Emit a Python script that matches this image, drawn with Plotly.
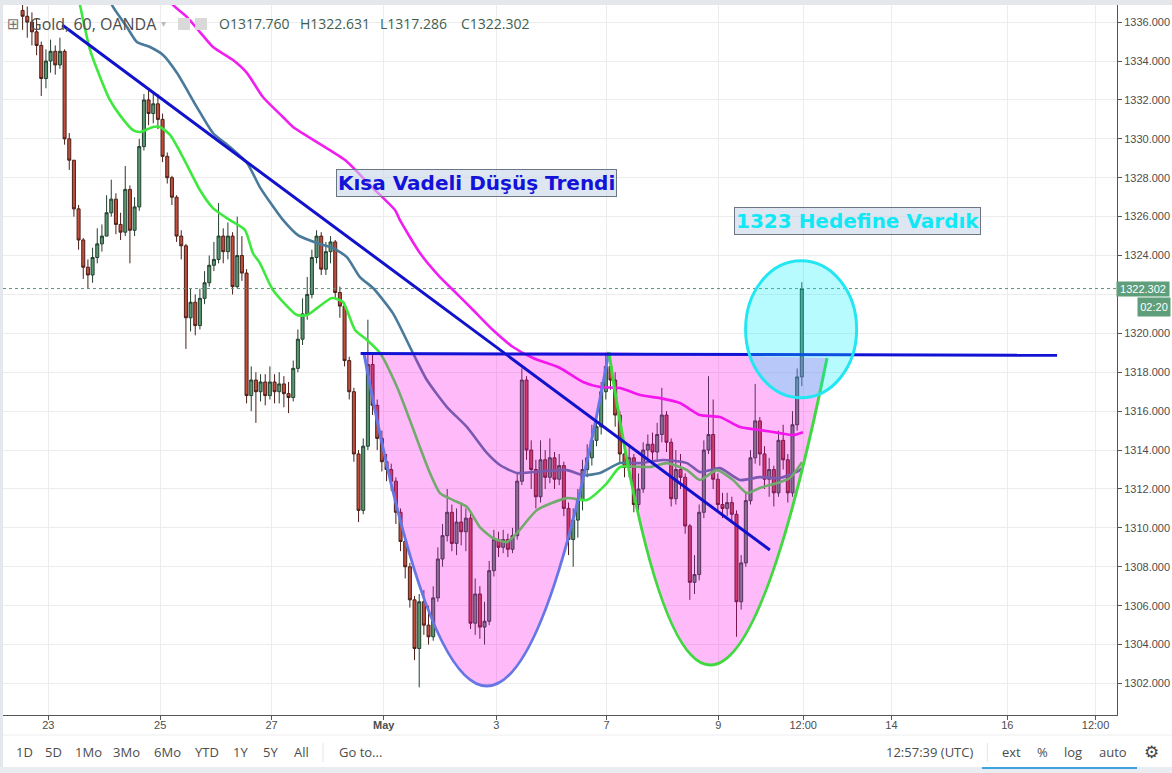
import plotly.graph_objects as go

# ---------------- data ----------------
# 2-hour candles, x = trading hours since 23 Apr 00:00 (weekends collapsed)
bar_start_hour = -11
bar_step_hours = 2
first_open = 1336.6
closes = [
    1336.3, 1336.0, 1335.5, 1334.8, 1333.1, 1334.0, 1334.5, 1333.8, 1334.5, 1330.0,
    1328.9, 1326.4, 1324.8, 1323.4, 1323.0, 1323.9, 1324.6, 1325.0, 1326.2, 1326.9,
    1325.6, 1325.2, 1327.4, 1325.3, 1326.5, 1329.6, 1332.0, 1331.3, 1331.8, 1331.0,
    1329.1, 1328.0, 1327.0, 1325.0, 1324.5, 1320.8, 1321.6, 1320.4, 1321.8, 1322.6,
    1323.5, 1323.8, 1325.0, 1324.2, 1325.0, 1322.4, 1324.0, 1323.1, 1316.8, 1317.6,
    1317.0, 1317.5, 1316.8, 1317.5, 1317.0, 1317.4, 1316.9, 1316.7, 1318.2, 1319.7,
    1321.0, 1322.0, 1323.9, 1325.0, 1323.3, 1324.2, 1324.7, 1322.1, 1321.4, 1318.6,
    1317.0, 1313.8, 1310.9, 1314.2, 1318.4, 1316.3, 1314.6, 1313.4, 1313.0, 1312.4,
    1310.8, 1309.3, 1308.0, 1306.3, 1303.8, 1306.2, 1305.0, 1304.4, 1306.4, 1308.4,
    1309.6, 1310.8, 1309.2, 1310.3, 1309.8, 1310.5, 1305.1, 1306.6, 1304.9, 1305.2,
    1307.8, 1309.4, 1309.0, 1309.4, 1308.9, 1309.6, 1312.4, 1317.6, 1314.0, 1313.0,
    1311.6, 1313.5, 1312.6, 1313.6, 1312.5, 1313.2, 1311.0, 1309.4, 1310.4, 1311.4,
    1313.0, 1313.6, 1314.5, 1315.2, 1317.0, 1318.3, 1317.6, 1315.8, 1313.8, 1313.1,
    1313.6, 1311.2, 1312.0, 1314.0, 1314.3, 1313.9, 1314.8, 1315.8, 1314.4, 1311.5,
    1313.0, 1312.6, 1310.1, 1307.2, 1307.6, 1310.8, 1314.0, 1314.8, 1312.5, 1311.2,
    1311.0, 1311.3, 1310.7, 1306.2, 1308.2, 1311.4, 1313.6, 1315.5, 1313.8, 1312.5,
    1313.0, 1311.8, 1314.5, 1313.5, 1311.8, 1315.3, 1317.76, 1322.302,
]
highs = [
    1336.9, 1336.8, 1336.5, 1336.2, 1335.0, 1334.6, 1335.1, 1334.8, 1335.2, 1334.6,
    1330.3, 1328.9, 1326.6, 1324.9, 1323.8, 1324.4, 1325.4, 1325.6, 1327.1, 1327.9,
    1327.2, 1326.2, 1328.6, 1327.6, 1327.0, 1330.0, 1332.3, 1332.5, 1332.4, 1332.3,
    1331.3, 1329.3, 1328.1, 1327.1, 1325.3, 1324.6, 1322.3, 1322.0, 1322.3, 1323.2,
    1324.0, 1324.7, 1326.7, 1325.4, 1325.7, 1325.2, 1326.0, 1325.0, 1323.3, 1318.3,
    1318.0, 1317.9, 1317.9, 1318.3, 1317.9, 1318.0, 1317.8, 1317.5, 1318.6, 1320.2,
    1321.8, 1322.9, 1324.3, 1325.3, 1325.2, 1324.7, 1325.0, 1324.8, 1322.4, 1321.6,
    1318.8, 1317.2, 1314.0, 1314.6, 1320.7, 1318.9, 1316.6, 1315.0, 1313.8, 1313.3,
    1312.6, 1311.0, 1309.6, 1308.2, 1306.5, 1306.6, 1306.8, 1306.0, 1307.0, 1309.0,
    1310.2, 1312.0, 1311.2, 1311.0, 1311.3, 1311.0, 1310.8, 1307.4, 1307.0, 1306.2,
    1308.3, 1309.9, 1309.8, 1309.9, 1309.7, 1310.0, 1312.8, 1318.2, 1317.8, 1314.5,
    1313.5, 1314.5, 1314.0, 1314.6, 1313.9, 1313.8, 1313.4, 1311.3, 1311.0, 1312.0,
    1313.5, 1314.3, 1315.3, 1316.0, 1317.5, 1319.0, 1318.8, 1318.0, 1316.0, 1314.2,
    1314.3, 1313.8, 1312.8, 1314.4, 1314.8, 1314.9, 1315.4, 1317.2, 1316.0, 1314.6,
    1314.0, 1313.8, 1312.8, 1310.2, 1308.6, 1311.2, 1314.5, 1317.8, 1316.6, 1312.8,
    1311.8, 1311.8, 1311.6, 1310.9, 1308.6, 1311.8, 1314.0, 1317.4, 1315.7, 1314.2,
    1313.6, 1313.2, 1315.0, 1315.3, 1313.8, 1316.0, 1318.2, 1322.631,
]
lows = [
    1335.6, 1335.2, 1334.8, 1334.3, 1332.2, 1332.6, 1333.4, 1333.3, 1333.6, 1329.7,
    1328.4, 1326.0, 1324.3, 1322.8, 1322.3, 1322.6, 1323.6, 1324.2, 1325.0, 1326.0,
    1325.1, 1324.8, 1325.0, 1323.6, 1325.0, 1326.3, 1329.4, 1330.7, 1330.8, 1330.5,
    1328.8, 1327.7, 1326.6, 1324.7, 1323.8, 1319.2, 1320.1, 1319.9, 1320.2, 1321.5,
    1322.4, 1323.2, 1323.6, 1323.6, 1323.8, 1322.0, 1322.3, 1322.7, 1316.4, 1316.0,
    1315.4, 1316.5, 1316.3, 1316.6, 1316.4, 1316.4, 1316.2, 1315.9, 1316.5, 1318.0,
    1319.4, 1320.7, 1321.8, 1323.6, 1323.0, 1323.0, 1323.6, 1321.8, 1320.8, 1318.3,
    1316.6, 1313.4, 1310.3, 1310.7, 1314.0, 1315.8, 1314.0, 1312.9, 1312.4, 1311.9,
    1310.2, 1308.8, 1307.4, 1305.9, 1303.2, 1301.8, 1304.5, 1304.0, 1304.2, 1306.2,
    1308.0, 1309.3, 1308.8, 1308.6, 1309.1, 1308.8, 1304.8, 1304.5, 1304.3, 1304.0,
    1305.0, 1307.5, 1308.5, 1308.7, 1308.5, 1308.7, 1309.4, 1312.2, 1313.5, 1312.0,
    1311.0, 1311.3, 1312.0, 1312.3, 1312.0, 1312.2, 1310.6, 1308.6, 1308.0, 1309.5,
    1310.9, 1312.6, 1313.2, 1314.2, 1314.8, 1316.6, 1317.1, 1315.2, 1313.3, 1312.6,
    1312.6, 1310.8, 1310.9, 1311.8, 1313.6, 1313.4, 1313.5, 1314.4, 1313.9, 1311.1,
    1311.2, 1312.0, 1309.7, 1306.3, 1306.6, 1307.3, 1310.5, 1313.8, 1312.0, 1310.8,
    1310.5, 1310.6, 1310.3, 1304.4, 1305.8, 1308.0, 1311.2, 1313.3, 1313.2, 1312.0,
    1311.6, 1311.1, 1311.6, 1313.0, 1311.3, 1311.6, 1315.0, 1317.286,
]
opens = [first_open] + closes[:-1]
bar_hours = [bar_start_hour + bar_step_hours * i for i in range(len(closes))]

# moving averages (hour, price)
ma_fast_h = [12.7, 13.6, 17.9, 22.2, 26.4, 30.7, 36.3, 39.3, 44.9, 47.9, 52.2, 57.7, 65.0,
             70.6, 77.9, 84.3, 87.7, 90.7, 96.3, 106.6, 110.9, 115.2, 121.6, 126.3, 131.5,
             136.6, 142.2, 149.5, 155.0, 159.3, 163.6, 167.9, 173.5, 179.5, 185.0, 190.6,
             196.6, 200.9, 209.5, 222.3, 230.9, 239.5, 245.1, 257.9, 265.2, 273.8, 279.3,
             286.6, 293.5, 299.5, 305.0, 313.6, 317.9, 323.1]
ma_fast_p = [1337.39, 1336.88, 1334.57, 1333.18, 1332.0, 1331.22, 1330.45, 1330.35, 1330.61,
             1330.61, 1330.2, 1329.06, 1327.37, 1326.44, 1325.82, 1325.31, 1324.13, 1323.61,
             1322.23, 1320.94, 1320.94, 1321.3, 1321.82, 1321.61, 1320.17, 1319.66, 1318.99,
             1317.24, 1315.54, 1314.15, 1312.82, 1311.79, 1311.43, 1311.07, 1310.04, 1309.48,
             1309.27, 1309.73, 1310.92, 1311.53, 1311.43, 1312.30, 1313.13, 1313.13, 1313.33,
             1312.97, 1312.46, 1312.97, 1312.46, 1311.79, 1312.05, 1312.35, 1312.56, 1313.38]
ma_mid_h = [25.6, 27.3, 33.7, 38.0, 43.6, 49.2, 55.2, 63.7, 70.6, 77.9, 85.2, 90.7, 95.0,
            100.6, 107.0, 115.2, 122.0, 128.0, 133.6, 139.2, 147.7, 156.3, 162.3, 170.9,
            179.5, 188.0, 193.6, 200.9, 207.8, 222.3, 229.2, 236.5, 245.1, 253.6, 263.5,
            273.8, 279.3, 287.9, 296.5, 305.0, 313.6, 322.2, 323.1]
ma_mid_p = [1337.55, 1336.88, 1335.75, 1334.98, 1334.72, 1334.31, 1333.38, 1331.63, 1330.3,
            1329.58, 1328.76, 1327.52, 1326.75, 1325.83, 1325.05, 1324.64, 1324.39, 1323.92,
            1322.89, 1322.33, 1321.04, 1318.99, 1317.6, 1316.21, 1315.18, 1313.85, 1313.23,
            1312.82, 1312.87, 1312.97, 1312.71, 1312.82, 1313.33, 1313.33, 1313.49, 1313.33,
            1312.87, 1313.07, 1312.46, 1312.61, 1312.56, 1312.97, 1313.07]
ma_slow_h = [51.3, 53.5, 59.5, 65.0, 70.6, 79.2, 85.2, 92.0, 100.6, 104.9, 127.2, 137.9,
             148.6, 150.7, 159.3, 167.9, 173.5, 182.1, 190.6, 199.2, 207.8, 219.3, 229.2,
             236.5, 245.1, 253.6, 262.2, 270.7, 279.3, 287.9, 296.5, 305.0, 313.6, 319.2, 323.5]
ma_slow_p = [1337.39, 1336.88, 1336.26, 1335.49, 1334.72, 1334.05, 1333.38, 1332.15, 1331.12,
             1330.61, 1328.91, 1327.62, 1326.34, 1325.83, 1324.13, 1322.89, 1322.23, 1321.2,
             1320.17, 1319.3, 1318.73, 1318.22, 1317.5, 1317.24, 1317.19, 1316.83, 1316.67,
             1316.42, 1315.8, 1315.7, 1315.18, 1315.03, 1314.87, 1314.77, 1314.92]

x_tick_vals = [0, 48, 95.7, 143.8, 192.1, 239.3, 287.2, 323.6, 361.4, 411.1, 448.9]
x_tick_text = ["23", "25", "27", "<b>May</b>", "3", "7", "9", "12:00", "14", "16", "12:00"]
y_tick_vals = [1302, 1304, 1306, 1308, 1310, 1312, 1314, 1316, 1318, 1320,
               1324, 1326, 1328, 1330, 1332, 1334, 1336]
y_hidden_grid = 1322

last_price = 1322.302
header_title = "Gold, 60, OANDA"
header_values = ["O1317.760", "H1322.631", "L1317.286", "C1322.302"]
countdown = "02:20"

# drawings (anchor points in hour / price units)
trend_line_h = [6.0, 309.3]
trend_line_p = [1335.85, 1308.86]
neck_line_h = [133.9, 432.4]
neck_line_p = [1318.96, 1318.87]
left_cup_h = [135.3, 188.3, 240.3]
left_cup_p = [1318.99, 1284.72, 1319.04]
right_cup_h = [240.3, 280.2, 333.8]
right_cup_p = [1319.04, 1287.01, 1318.73]
ellipse_h = [298.9, 346.5]
ellipse_p = [1316.69, 1323.73]
label1_text = "Kısa Vadeli Düşüş Trendi"
label1_pos = (183.6, 1327.74)
label2_text = "1323 Hedefine Vardık"
label2_pos = (346.7, 1325.78)

toolbar_left = ["1D", "5D", "1Mo", "3Mo", "6Mo", "YTD", "1Y", "5Y", "All", "Go to..."]
toolbar_right = ["12:57:39 (UTC)", "ext", "%", "log", "auto", "⚙"]

# ---------------- layout geometry ----------------
W, H = 1172, 773
ML, MR, MT, MB = 3, 55, 5, 58
PW, PH = W - ML - MR, H - MT - MB


def px(xp):
    return (xp - ML) / PW


def py(yp):
    return (H - MB - yp) / PH


fig = go.Figure()

fig.add_trace(go.Candlestick(
    x=bar_hours, open=opens,
    high=[max(h, o, c) for h, o, c in zip(highs, opens, closes)],
    low=[min(l, o, c) for l, o, c in zip(lows, opens, closes)],
    close=closes,
    increasing=dict(fillcolor="#5a9873", line=dict(color="#223f2e", width=1)),
    decreasing=dict(fillcolor="#c24e3d", line=dict(color="#4a1f18", width=1)),
    whiskerwidth=0, hoverinfo="skip", showlegend=False,
))

for hh, pp, col in [(ma_slow_h, ma_slow_p, "#f01ef0"),
                    (ma_mid_h, ma_mid_p, "#4a7a9b"),
                    (ma_fast_h, ma_fast_p, "#3ee83e")]:
    fig.add_trace(go.Scatter(x=hh, y=pp, mode="lines",
                             line=dict(color=col, width=2.6, shape="spline", smoothing=0.6),
                             hoverinfo="skip", showlegend=False))

shapes = []
# page chrome
shapes.append(dict(type="rect", xref="paper", yref="paper", x0=px(0), x1=px(W), y0=py(5), y1=py(0),
                   fillcolor="#e4e7ec", line=dict(width=0), layer="above"))
shapes.append(dict(type="rect", xref="paper", yref="paper", x0=px(0), x1=px(3), y0=py(H), y1=py(0),
                   fillcolor="#e4e7ec", line=dict(width=0), layer="above"))
shapes.append(dict(type="rect", xref="paper", yref="paper", x0=px(0), x1=px(W), y0=py(H), y1=py(767),
                   fillcolor="#e9edf2", line=dict(width=0)))
shapes.append(dict(type="line", xref="paper", yref="paper", x0=px(982), x1=px(1137), y0=py(768), y1=py(768),
                   line=dict(color="#3aa3e0", width=2)))
shapes.append(dict(type="line", xref="paper", yref="paper", x0=px(3), x1=px(W), y0=py(735), y1=py(735),
                   line=dict(color="#eeeeee", width=1)))
for sx in (323, 987.3):
    shapes.append(dict(type="line", xref="paper", yref="paper", x0=px(sx), x1=px(sx), y0=py(743), y1=py(762),
                       line=dict(color="#e2e4ea", width=1)))
# header icons
for x0 in (178, 195):
    shapes.append(dict(type="rect", xref="paper", yref="paper", x0=px(x0), x1=px(x0 + 12),
                       y0=py(30), y1=py(18), fillcolor="#d9d9d9", line=dict(width=0), layer="above"))
# hidden tick grid line and last price line
shapes.append(dict(type="line", xref="paper", yref="y", x0=0, x1=1, y0=y_hidden_grid, y1=y_hidden_grid,
                   line=dict(color="#ececec", width=1), layer="below"))
shapes.append(dict(type="line", xref="paper", yref="y", x0=0, x1=1, y0=last_price, y1=last_price,
                   line=dict(color="#5b8f77", width=1, dash="dot"), layer="above"))


def qpath(hs, ps, close):
    d = "M %s,%s Q %s,%s %s,%s" % (hs[0], ps[0], hs[1], ps[1], hs[2], ps[2])
    return d + (" Z" if close else "")


for hs, ps in [(left_cup_h, left_cup_p), (right_cup_h, right_cup_p)]:
    shapes.append(dict(type="path", xref="x", yref="y", path=qpath(hs, ps, True),
                       fillcolor="rgba(255,0,232,0.27)", line=dict(width=0), layer="above"))
shapes.append(dict(type="path", xref="x", yref="y", path=qpath(left_cup_h, left_cup_p, False),
                   fillcolor="rgba(0,0,0,0)", line=dict(color="#6677e4", width=3), layer="above"))
shapes.append(dict(type="path", xref="x", yref="y", path=qpath(right_cup_h, right_cup_p, False),
                   fillcolor="rgba(0,0,0,0)", line=dict(color="#3fd83f", width=3), layer="above"))
shapes.append(dict(type="line", xref="x", yref="y", x0=trend_line_h[0], x1=trend_line_h[1],
                   y0=trend_line_p[0], y1=trend_line_p[1], line=dict(color="#1212cc", width=3), layer="above"))
shapes.append(dict(type="line", xref="x", yref="y", x0=neck_line_h[0], x1=neck_line_h[1],
                   y0=neck_line_p[0], y1=neck_line_p[1], line=dict(color="#1212d4", width=3), layer="above"))
shapes.append(dict(type="circle", xref="x", yref="y", x0=ellipse_h[0], x1=ellipse_h[1],
                   y0=ellipse_p[0], y1=ellipse_p[1], fillcolor="rgba(0,240,250,0.28)",
                   line=dict(color="#22e6f2", width=3), layer="above"))

ann = []
TXT = "#4d4d4d"


def note(text, x, y, font, xanchor="center", yanchor="middle", xref="paper", yref="paper", **kw):
    d = dict(text=text, x=x, y=y, xref=xref, yref=yref, showarrow=False,
             xanchor=xanchor, yanchor=yanchor, font=font)
    d.update(kw)
    ann.append(d)


note("⊞", px(13), py(24), dict(family="DejaVu Sans", size=15, color="#777777"))
note(header_title, px(28), py(24), dict(family="Open Sans", size=16, color=TXT), xanchor="left")
note("▾", px(163), py(24), dict(family="DejaVu Sans", size=10, color="#bbbbbb"))
for t, xx in zip(header_values, (216.7, 297.7, 378.3, 459.0)):
    note(t, px(xx), py(24), dict(family="Open Sans", size=14, color="#3f5f4f"), xanchor="left")
note("<b>%s</b>" % label1_text, label1_pos[0], label1_pos[1],
     dict(family="DejaVu Sans", size=20, color="#1212d8"), xref="x", yref="y",
     bgcolor="rgba(200,214,232,0.6)", bordercolor="#6b7684", borderwidth=1, borderpad=1)
note("<b>%s</b>" % label2_text, label2_pos[0], label2_pos[1],
     dict(family="DejaVu Sans", size=20, color="#12e8f5"), xref="x", yref="y",
     bgcolor="rgba(200,214,232,0.6)", bordercolor="#6b7684", borderwidth=1, borderpad=1)
note("%.3f" % last_price, px(1143.2), last_price,
     dict(family="Liberation Sans", size=11, color="white"), yref="y",
     width=52, height=14, borderpad=0, bgcolor="#5e9e7b")
note(countdown, px(1153.8), 1321.37,
     dict(family="Liberation Sans", size=11, color="white"), yref="y",
     width=32, height=18, borderpad=0, bgcolor="#5e9e7b")
for t, xx in zip(toolbar_left, (24.1, 53.6, 88.9, 126.4, 167.4, 206.9, 240.6, 270.9, 301.5, 360.5)):
    note(t, px(xx), py(752), dict(family="Open Sans", size=13, color=TXT))
for t, xx in zip(toolbar_right, (929.3, 1011, 1042.3, 1072.7, 1113.3, 1151.7)):
    f = dict(family="Open Sans", size=13, color=TXT)
    if t == "⚙":
        f = dict(family="DejaVu Sans", size=17, color="#444444")
    note(t, px(xx), py(752), f)

fig.update_layout(
    template="none", width=W, height=H,
    margin=dict(l=ML, r=MR, t=MT, b=MB, pad=0),
    paper_bgcolor="white", plot_bgcolor="white",
    showlegend=False, hovermode=False, boxgap=0.08,
    shapes=shapes, annotations=ann,
    xaxis=dict(range=[-19.4, -19.4 + PW / 2.333], tickvals=x_tick_vals, ticktext=x_tick_text,
               showgrid=True, gridcolor="#ececec", gridwidth=1, zeroline=False,
               showline=True, linecolor="#555555", linewidth=1, ticks="outside", ticklen=4,
               tickcolor="#555555", tickfont=dict(family="Liberation Sans", size=11, color="#4d4d4d"),
               rangeslider=dict(visible=False), automargin=False, fixedrange=True),
    yaxis=dict(range=[1300.38, 1336.88], side="right", tickvals=y_tick_vals, tickformat=".3f",
               showgrid=True, gridcolor="#ececec", gridwidth=1, zeroline=False,
               showline=True, linecolor="#555555", linewidth=1, ticks="outside", ticklen=4,
               tickcolor="#555555", tickfont=dict(family="Liberation Sans", size=11, color="#4d4d4d"),
               automargin=False, fixedrange=True),
)
try:
    fig.update_xaxes(ticklabelstandoff=-4)
except Exception:
    pass

fig.write_html("out.html", config={"displayModeBar": False},
               post_script="document.body.style.margin='0';document.body.style.overflow='hidden';")
